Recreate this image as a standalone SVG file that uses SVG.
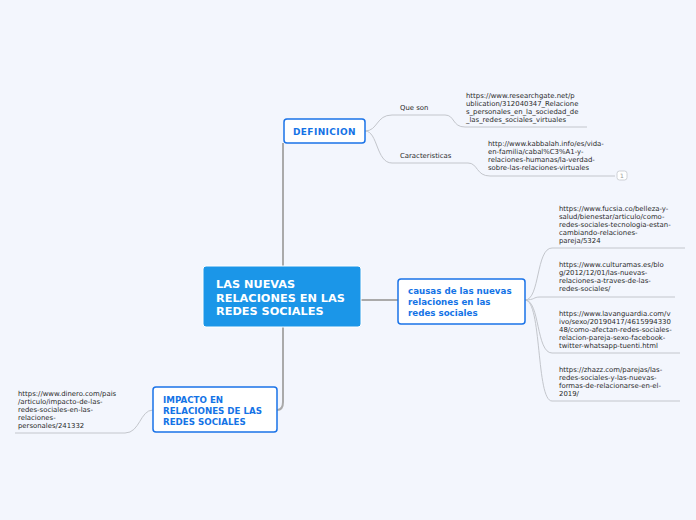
<svg xmlns="http://www.w3.org/2000/svg" width="696" height="520" viewBox="0 0 696 520">
<style>
.t{font-family:"DejaVu Sans",Verdana,sans-serif;font-size:6.9px;fill:#2a2a2a}
.b{font-family:"DejaVu Sans",Verdana,sans-serif;font-weight:bold;font-size:8.7px;fill:#1473e6}
.c{font-family:"DejaVu Sans",Verdana,sans-serif;font-weight:bold;font-size:11.3px;fill:#fff}
.box{fill:#fff;stroke:#1a73e8;stroke-width:1.5}
.main{fill:none;stroke:#aaaaaa;stroke-width:2}
.thin{fill:none;stroke:#c3c6cc;stroke-width:1}
</style>
<rect width="696" height="520" fill="#f3f6fd"/>
<g id="connectors">
<path class="main" d="M283,266 V143"/>
<path class="main" d="M283,327 V402 Q283,410 277,410"/>
<path class="main" d="M361,300 H398"/>
<path class="thin" d="M365,131 C378,131 376,115 392,115 H445 C455,115 452,127 465,127 H587"/>
<path class="thin" d="M365,131 C378,131 376,163 392,163 H468 C478,163 476,176 490,176 H615"/>
<path class="thin" d="M525,300 C540,300 536,248 552,248 H685"/>
<path class="thin" d="M525,300 C535,300 533,297 540,297 H675"/>
<path class="thin" d="M525,300 C540,300 536,353 552,353 H680"/>
<path class="thin" d="M525,300 C542,300 536,401 552,401 H680"/>
<path class="thin" d="M153,410 C140,410 140,433 125,433 H15"/>
</g>
<g id="center">
<rect x="203" y="266" width="158" height="61" rx="3" fill="#1b96e8" stroke="#fff" stroke-width="1"/>
<text class="c" x="216" y="288">LAS NUEVAS</text>
<text class="c" x="216" y="301.5">RELACIONES EN LAS</text>
<text class="c" x="216" y="315">REDES SOCIALES</text>
</g>
<g id="definicion">
<rect class="box" x="284" y="119" width="81" height="24" rx="3"/>
<text class="b" x="324.5" y="134.5" text-anchor="middle" style="font-size:9px;letter-spacing:0.4px">DEFINICION</text>
</g>
<g id="causas">
<rect class="box" x="398" y="279" width="127" height="45" rx="3"/>
<text class="b" x="408" y="294">causas de las nuevas</text>
<text class="b" x="408" y="305">relaciones en las</text>
<text class="b" x="408" y="316">redes sociales</text>
</g>
<g id="impacto">
<rect class="box" x="153" y="387" width="124" height="45" rx="3"/>
<text class="b" x="163" y="403">IMPACTO EN</text>
<text class="b" x="163" y="414">RELACIONES DE LAS</text>
<text class="b" x="163" y="425">REDES SOCIALES</text>
</g>
<g id="queson">
<text class="t" x="400" y="109.5">Que son</text>
</g>
<g id="researchgate">
<text class="t" x="466" y="98">https://www.researchgate.net/p</text>
<text class="t" x="466" y="106">ublication/312040347_Relacione</text>
<text class="t" x="466" y="114">s_personales_en_la_sociedad_de</text>
<text class="t" x="466" y="122">_las_redes_sociales_virtuales</text>
</g>
<g id="caracteristicas">
<text class="t" x="400" y="157.5">Caracteristicas</text>
</g>
<g id="kabbalah">
<text class="t" x="488" y="146">http://www.kabbalah.info/es/vida-</text>
<text class="t" x="488" y="154">en-familia/cabal%C3%A1-y-</text>
<text class="t" x="488" y="162">relaciones-humanas/la-verdad-</text>
<text class="t" x="488" y="170">sobre-las-relaciones-virtuales</text>
<rect x="617" y="171" width="10" height="9" rx="2.5" fill="#fff" stroke="#c3c6cc" stroke-width="0.8"/>
<text x="622" y="178" text-anchor="middle" style="font-family:'DejaVu Sans',sans-serif;font-size:6px;fill:#999">1</text>
</g>
<g id="fucsia">
<text class="t" x="559" y="211">https://www.fucsia.co/belleza-y-</text>
<text class="t" x="559" y="219">salud/bienestar/articulo/como-</text>
<text class="t" x="559" y="227">redes-sociales-tecnologia-estan-</text>
<text class="t" x="559" y="235">cambiando-relaciones-</text>
<text class="t" x="559" y="243">pareja/5324</text>
</g>
<g id="culturamas">
<text class="t" x="559" y="267">https://www.culturamas.es/blo</text>
<text class="t" x="559" y="275">g/2012/12/01/las-nuevas-</text>
<text class="t" x="559" y="283">relaciones-a-traves-de-las-</text>
<text class="t" x="559" y="291">redes-sociales/</text>
</g>
<g id="lavanguardia">
<text class="t" x="559" y="316">https://www.lavanguardia.com/v</text>
<text class="t" x="559" y="324">ivo/sexo/20190417/4615994330</text>
<text class="t" x="559" y="332">48/como-afectan-redes-sociales-</text>
<text class="t" x="559" y="340">relacion-pareja-sexo-facebook-</text>
<text class="t" x="559" y="348">twitter-whatsapp-tuenti.html</text>
</g>
<g id="zhazz">
<text class="t" x="559" y="372">https://zhazz.com/parejas/las-</text>
<text class="t" x="559" y="380">redes-sociales-y-las-nuevas-</text>
<text class="t" x="559" y="388">formas-de-relacionarse-en-el-</text>
<text class="t" x="559" y="396">2019/</text>
</g>
<g id="dinero">
<text class="t" x="18" y="396">https://www.dinero.com/pais</text>
<text class="t" x="18" y="404">/articulo/impacto-de-las-</text>
<text class="t" x="18" y="412">redes-sociales-en-las-</text>
<text class="t" x="18" y="420">relaciones-</text>
<text class="t" x="18" y="428">personales/241332</text>
</g>
</svg>
